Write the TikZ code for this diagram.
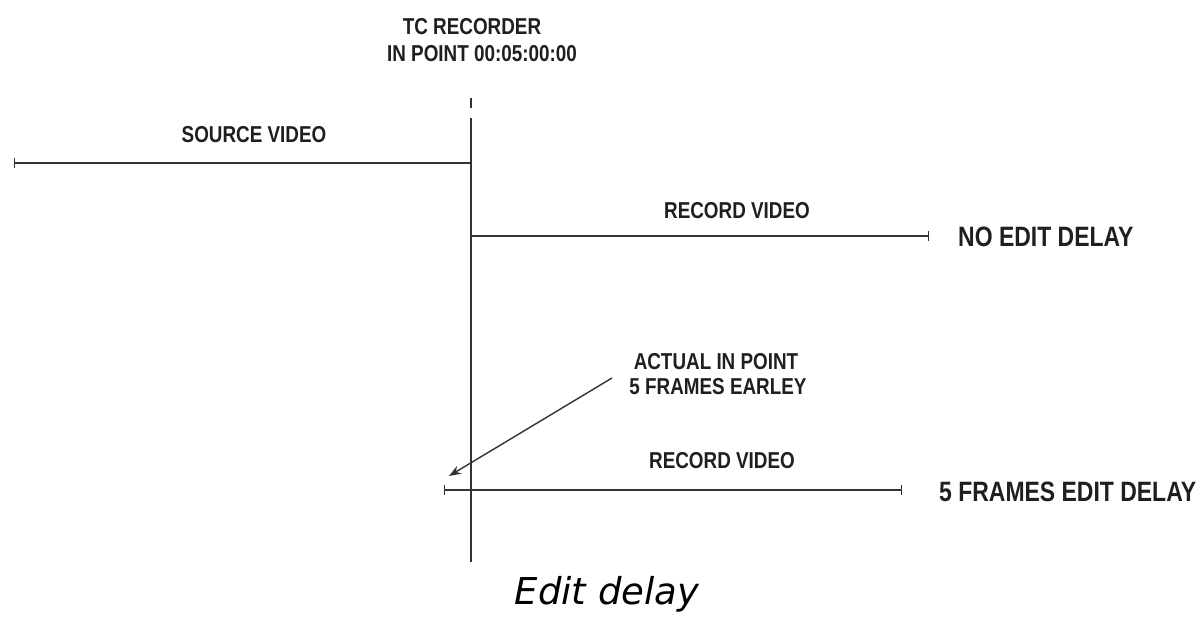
\documentclass[tikz,border=0pt]{standalone}
\usepackage{fontspec}
\setmainfont{Liberation Sans}
\newfontfamily\cond[FakeStretch=0.82]{Liberation Sans Bold}
\newfontfamily\capfont{DejaVu Sans Oblique}
\usetikzlibrary{arrows.meta}
\begin{document}
\begin{tikzpicture}[x=1pt,y=-1pt,
  lbl/.style={font=\cond\fontsize{23}{24}\selectfont, inner sep=0pt, anchor=base, text=black!88},
  big/.style={font=\cond\fontsize{28}{30}\selectfont, inner sep=0pt, anchor=base west, text=black!88},
  tl/.style={line width=1.4pt, draw=black!80},
  tk/.style={{Bar[width=10pt]}-{Bar[width=10pt]}},
  tkr/.style={-{Bar[width=10pt]}},
  tkl/.style={{Bar[width=10pt]}-}]
\useasboundingbox (0,0) rectangle (1200,617);
% vertical time line
\coordinate (vtop) at (471,98);
\coordinate (vdash) at (471,108);
\coordinate (vs) at (471,118);
\coordinate (vb) at (471,562);
\draw[tl] (vtop) -- (vdash);
\draw[tl] (vs) -- (vb);
% source
\coordinate (s0) at (14,163);
\coordinate (s1) at (471,163);
\draw[tl,tkl] (s0) -- (s1);
% record 1
\coordinate (r0) at (471,236);
\coordinate (r1) at (929,236);
\draw[tl,tkr] (r0) -- (r1);
% record 2
\coordinate (q0) at (444,490);
\coordinate (q1) at (902,490);
\draw[tl,tk] (q0) -- (q1);
% labels
\node[lbl] (tc1) at (472,35) {TC RECORDER};
\node[lbl] (tc2) at (482,62) {IN POINT 00:05:00:00};
\node[lbl] (src) at (254,143) {SOURCE VIDEO};
\node[lbl] (rv1) at (737,219) {RECORD VIDEO};
\node[big] (ned) at (958,247) {NO EDIT DELAY};
\node[lbl] (act1) at (716,370) {ACTUAL IN POINT};
\node[lbl] (act2) at (718,395) {5 FRAMES EARLEY};
\node[lbl] (rv2) at (722,469) {RECORD VIDEO};
\node[big] (fed) at (939,501) {5 FRAMES EDIT DELAY};
\node[font=\capfont\fontsize{37}{40}\selectfont, inner sep=0pt, anchor=base] (cap) at (607,604) {Edit delay};
% arrow
\coordinate (atail) at (612,378);
\coordinate (ah) at (449,476);
\draw[tl,-{Stealth[length=12pt,width=9pt]}] (atail) -- (ah);
\end{tikzpicture}
\end{document}
